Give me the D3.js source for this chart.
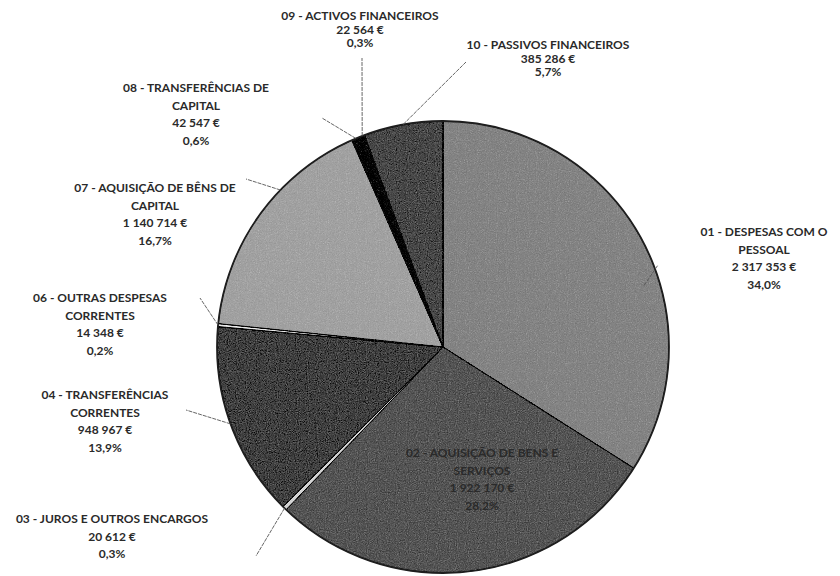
<!DOCTYPE html>
<html>
<head>
<meta charset="utf-8">
<script src="https://cdn.jsdelivr.net/npm/d3@7/dist/d3.min.js"></script>
<style>
  body { margin: 0; background: #fff; }
  svg text { font-family: Lato, "Open Sans", sans-serif; font-weight: 700; font-size: 12px; fill: #2a2a2a; }
</style>
</head>
<body>
<div id="chart"></div>
<script>
// categories and values (euros), in the order Excel draws them, clockwise from 12 o'clock
const codes = ["01", "02", "03", "04", "06", "07", "08", "09", "10"];
const names = [
  ["01 - DESPESAS COM O", "PESSOAL"],
  ["02 - AQUISIÇÃO DE BENS E", "SERVIÇOS"],
  ["03 - JUROS E OUTROS ENCARGOS"],
  ["04 - TRANSFERÊNCIAS", "CORRENTES"],
  ["06 - OUTRAS DESPESAS", "CORRENTES"],
  ["07 - AQUISIÇÃO DE BÊNS DE", "CAPITAL"],
  ["08 - TRANSFERÊNCIAS DE", "CAPITAL"],
  ["09 - ACTIVOS FINANCEIROS"],
  ["10 - PASSIVOS FINANCEIROS"]
];
const values = [2317353, 1922170, 20612, 948967, 14348, 1140714, 42547, 22564, 385286];
const valueLabels = ["2 317 353 €", "1 922 170 €", "20 612 €", "948 967 €", "14 348 €", "1 140 714 €", "42 547 €", "22 564 €", "385 286 €"];
const pctLabels = ["34,0%", "28,2%", "0,3%", "13,9%", "0,2%", "16,7%", "0,6%", "0,3%", "5,7%"];

// grey shades of the scanned slices
const shades = ["#979797", "#747474", "#dedede", "#686868", "#f2f2f2", "#b0b0b0", "#303030", "#404040", "#6c6c6c"];

// where each label block sits (centre x, first baseline)
const labelPos = [
  [764, 236], [482, 457], [112, 523], [105, 399], [100, 302], [155, 192], [196, 92], [360, 20], [548, 49]
];
// leader lines: label-side end, and optional start [radius fraction, angle in degrees]
const leaderEnd = [
  [658, 265], null, [256, 556], [186, 410], [200, 298], [246, 179], [322, 118], [362, 58], [466, 62]
];
const leaderFrom = [
  [0.93, 73], null, null, null, null, [1, 314], null, null, null
];

const width = 840, height = 576;
const cx = 443, cy = 347, radius = 226;

const svg = d3.select("#chart").append("svg")
  .attr("width", width)
  .attr("height", height);

// grain to imitate the dithered print
const defs = svg.append("defs");
const grain = defs.append("filter").attr("id", "grain").attr("x", 0).attr("y", 0).attr("width", 1).attr("height", 1);
grain.append("feTurbulence").attr("type", "fractalNoise").attr("baseFrequency", 0.9).attr("numOctaves", 2).attr("seed", 3).attr("result", "n");
grain.append("feColorMatrix").attr("in", "n").attr("type", "saturate").attr("values", 0).attr("result", "g");
grain.append("feComposite").attr("in", "SourceGraphic").attr("in2", "g")
  .attr("operator", "arithmetic").attr("k1", 0).attr("k2", 1).attr("k3", 0.4).attr("k4", -0.19).attr("result", "c");
grain.append("feComposite").attr("in", "c").attr("in2", "SourceGraphic").attr("operator", "in");

const data = codes.map((c, i) => ({ code: c, value: values[i], i: i }));

const pie = d3.pie().sort(null).value(d => d.value);
const arcs = pie(data);
const arc = d3.arc().innerRadius(0).outerRadius(radius);

const g = svg.append("g").attr("transform", "translate(" + cx + "," + cy + ")");

g.append("g").attr("filter", "url(#grain)")
  .selectAll("path")
  .data(arcs)
  .join("path")
  .attr("d", arc)
  .attr("fill", d => shades[d.data.i])
  .attr("stroke", "#2a2a2a")
  .attr("stroke-width", 1);

// dark rim
g.append("circle")
  .attr("r", radius)
  .attr("fill", "none")
  .attr("stroke", "#1e1e1e")
  .attr("stroke-width", 1.8);

// leader lines from the slices to the labels
const edge = d3.arc().innerRadius(radius).outerRadius(radius);
function leaderStart(d) {
  const f = leaderFrom[d.data.i];
  if (!f) return edge.centroid(d);
  const a = f[1] * Math.PI / 180;
  return [Math.sin(a) * radius * f[0], -Math.cos(a) * radius * f[0]];
}
g.append("g")
  .selectAll("line")
  .data(arcs.filter(d => leaderEnd[d.data.i]))
  .join("line")
  .attr("x1", d => leaderStart(d)[0])
  .attr("y1", d => leaderStart(d)[1])
  .attr("x2", d => leaderEnd[d.data.i][0] - cx)
  .attr("y2", d => leaderEnd[d.data.i][1] - cy)
  .attr("stroke", "#555")
  .attr("stroke-width", 0.9)
  .attr("stroke-dasharray", "4,1");

// labels
const lineH = 17.5;
const labels = svg.append("g")
  .selectAll("text")
  .data(data)
  .join("text")
  .attr("text-anchor", "middle")
  .attr("x", d => labelPos[d.i][0])
  .attr("y", d => labelPos[d.i][1]);

labels.each(function (d) {
  const lines = names[d.i].concat([valueLabels[d.i], pctLabels[d.i]]);
  const t = d3.select(this);
  const step = d.code === "09" || d.code === "10" ? 13.5 : lineH;
  lines.forEach((s, k) => {
    t.append("tspan")
      .attr("x", labelPos[d.i][0])
      .attr("dy", k === 0 ? 0 : step)
      .text(s);
  });
});
</script>
</body>
</html>
